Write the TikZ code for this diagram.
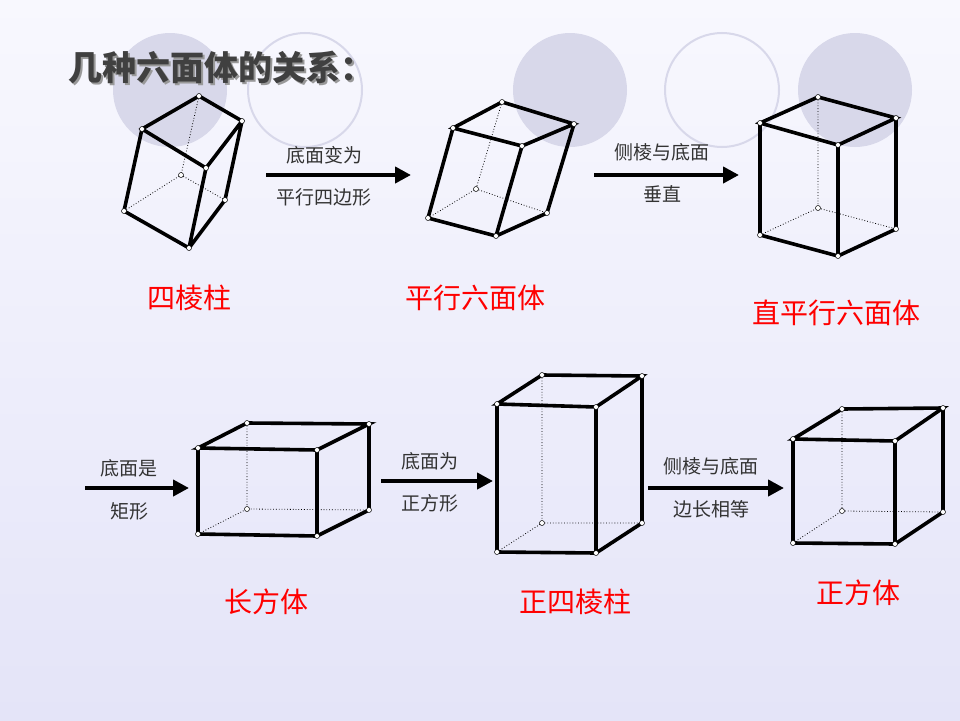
\documentclass[tikz,border=0pt]{standalone}
\usepackage{fontspec}
\newfontfamily\cjk{Noto Sans CJK SC}
\usetikzlibrary{arrows.meta}
\definecolor{bgtop}{HTML}{F8F8FE}
\definecolor{bgbot}{HTML}{E4E4F8}
\definecolor{circ}{HTML}{D8D8EA}
\definecolor{ttl}{HTML}{404040}
\tikzset{
  vis/.style={line width=3.6pt,line cap=round},
  hid/.style={line width=0.8pt,dotted},
  vtx/.style={circle,draw=black,fill=white,line width=0.5pt,inner sep=0pt,minimum size=5pt},
  arr/.style={line width=4.5pt,-{Triangle[length=16pt,width=16pt]}},
  lab/.style={font=\cjk\fontsize{19}{19}\selectfont,text=black!80},
  pname/.style={font=\cjk\fontsize{28}{28}\selectfont,text=red},
}
\newcommand\hexa[9]{%
  \coordinate (#1A) at #2; \coordinate (#1B) at #3; \coordinate (#1C) at #4; \coordinate (#1D) at #5;
  \coordinate (#1E) at #6; \coordinate (#1F) at #7; \coordinate (#1G) at #8; \coordinate (#1H) at #9;
  \draw[hid] (#1B)--(#1H) (#1E)--(#1H)--(#1G);
  \draw[vis] (#1A)--(#1B)--(#1C)--(#1D)--cycle (#1A)--(#1E)--(#1F)--(#1G)--(#1C) (#1D)--(#1F);
  \foreach \n in {A,B,C,D,E,F,G,H}{\node[vtx] at (#1\n) {};}
}
\begin{document}
\begin{tikzpicture}[x=1pt,y=-1pt]
\shade[top color=bgtop,bottom color=bgbot] (0,0) rectangle (960,720);
\useasboundingbox (0,0) rectangle (960,720);
\fill[circ] (170,90) circle (57) (570,90) circle (57) (855,90) circle (57);
\draw[circ,line width=2pt] (305,90) circle (57) (722,90) circle (57);
\node[font=\cjk\bfseries\fontsize{34}{34}\selectfont,text=black!40] at (223,70) {几种六面体的关系：};
\node[font=\cjk\bfseries\fontsize{34}{34}\selectfont,text=ttl] (title) at (221,68) {几种六面体的关系：};
\hexa{a}{(142,129)}{(199,96)}{(242,121)}{(206,168)}{(124,211)}{(189,248)}{(225,200)}{(181,175)}
\hexa{b}{(453,128)}{(502,102)}{(574,124)}{(522,146)}{(428,218)}{(496,236)}{(547,213)}{(476,189)}
\hexa{c}{(760,123)}{(818,97)}{(896,118)}{(838,145)}{(760,235)}{(838,256)}{(896,229)}{(818,208)}
\hexa{d}{(198,448)}{(247,423)}{(369,424)}{(317,450)}{(198,534)}{(317,536)}{(369,510)}{(247,509)}
\hexa{e}{(497,404)}{(542,375)}{(642,376)}{(596,407)}{(497,552)}{(596,553)}{(642,523)}{(542,523)}
\hexa{f}{(793,439)}{(842,409)}{(943,408)}{(895,441)}{(793,543)}{(895,544)}{(943,512)}{(842,511)}
\node[pname] (n1) at (189,298) {四棱柱};
\node[pname] (n2) at (475,298) {平行六面体};
\node[pname] (n3) at (836,313) {直平行六面体};
\node[pname] (n4) at (266,602) {长方体};
\node[pname] (n5) at (575,602) {正四棱柱};
\node[pname] (n6) at (858,593) {正方体};
\coordinate (s1) at (266,175); \coordinate (t1) at (411,175);
\coordinate (s2) at (594,175); \coordinate (t2) at (739,175);
\coordinate (s3) at (85,488); \coordinate (t3) at (189,488);
\coordinate (s4) at (381,481); \coordinate (t4) at (493,481);
\coordinate (s5) at (648,488); \coordinate (t5) at (784,488);
\foreach \i in {1,...,5}{\draw[arr] (s\i)--(t\i);}
\node[lab] (l1a) at (324,155) {底面变为};
\node[lab] (l1b) at (324,197) {平行四边形};
\node[lab] (l2a) at (662,152) {侧棱与底面};
\node[lab] (l2b) at (662,194) {垂直};
\node[lab] (l3a) at (129,468) {底面是};
\node[lab] (l3b) at (129,511) {矩形};
\node[lab] (l4a) at (430,461) {底面为};
\node[lab] (l4b) at (430,503) {正方形};
\node[lab] (l5a) at (711,466) {侧棱与底面};
\node[lab] (l5b) at (711,509) {边长相等};
\end{tikzpicture}
\end{document}
